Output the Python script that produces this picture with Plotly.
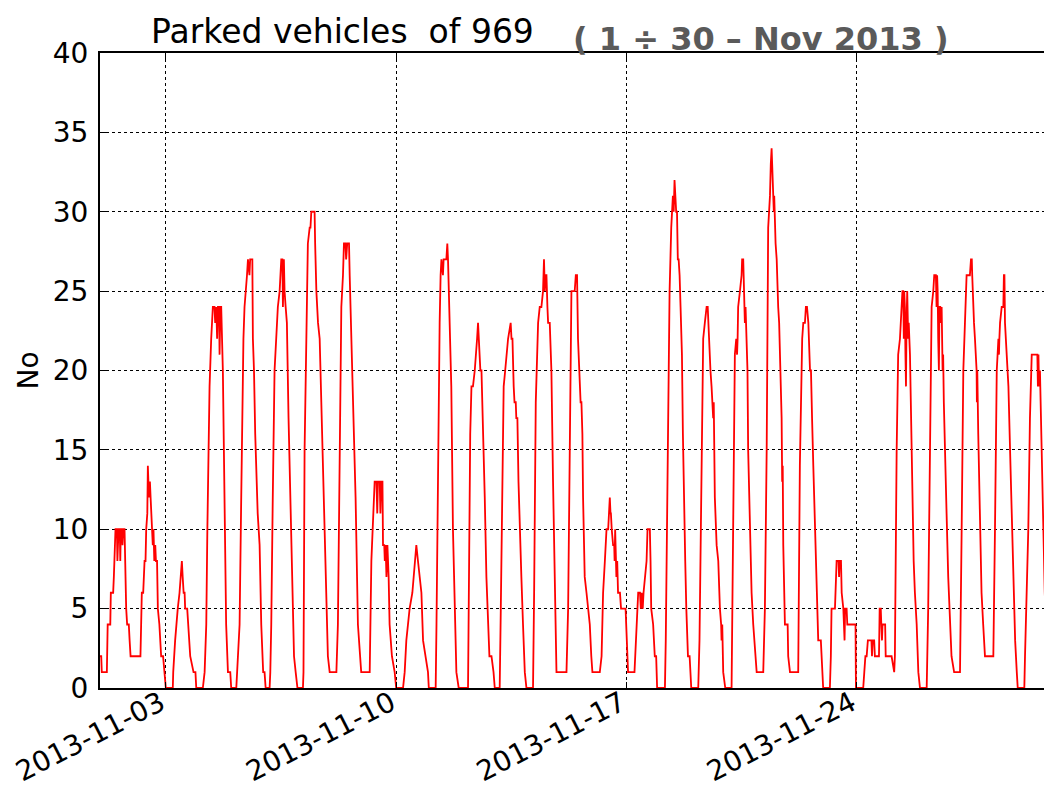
import datetime as dt
import plotly.graph_objects as go

# Each day: list of [hour_of_day, parked_vehicles]
nov01 = [[0, 2], [0.9, 2], [1.3, 1], [5.0, 1], [5.6, 4], [7.5, 4], [7.9, 6], [9.6, 6], [10.1, 7], [10.6, 8], [11.0, 9], [11.3, 10], [12.3, 10], [12.7, 8], [13.1, 9], [13.6, 10], [14.4, 10], [14.8, 8], [15.2, 10], [16.0, 10], [16.4, 9], [17.0, 10], [17.9, 10], [18.6, 6], [19.1, 5], [19.8, 4], [21.0, 4], [21.6, 3], [22.3, 2]]
nov02 = [[0, 2], [5.5, 2], [6.0, 4], [6.5, 6], [7.5, 6], [8.5, 8], [9.2, 8], [9.7, 10], [10.5, 11], [10.9, 14], [11.3, 13], [11.9, 12], [12.4, 13], [12.9, 12], [13.4, 11], [14.0, 10], [14.5, 9], [15.0, 10], [15.6, 8], [16.3, 9], [16.8, 8], [17.6, 8], [18.2, 5], [19.3, 4], [20.6, 2], [22.0, 2], [22.8, 1], [23.9, 0]]
nov03 = [[0, 0], [5.1, 0], [5.4, 1], [6.8, 3], [7.6, 4], [8.7, 5], [10.0, 6], [11.0, 7], [11.7, 8], [12.3, 7], [13.0, 6], [13.7, 6], [14.1, 5], [15.6, 5], [16.5, 4], [17.8, 2], [20.2, 1], [21.6, 1], [22.2, 0]]
nov04 = [[0, 0], [3.0, 0], [4.3, 1], [5.5, 4], [6.3, 10], [7.9, 19], [9.1, 22], [10.3, 24], [11.5, 24], [12.0, 23], [12.8, 24], [13.4, 22], [14.0, 24], [14.8, 24], [15.2, 21], [15.8, 24], [16.4, 24], [17.0, 22], [17.6, 20], [18.8, 12], [20.0, 4], [21.3, 1], [23.0, 1], [23.7, 0]]
nov05 = [[0, 0], [3.4, 0], [4.0, 1], [5.8, 4], [7.0, 12], [7.8, 19], [8.6, 22], [9.4, 24], [10.5, 25], [11.2, 26], [11.9, 27], [13.0, 26], [13.5, 27], [15.1, 27], [15.5, 22], [16.3, 20], [17.2, 16], [18.0, 14], [19.0, 11], [20.4, 9], [21.6, 4], [23.0, 1]]
nov06 = [[0, 1], [0.8, 0], [3.7, 0], [4.2, 1], [4.9, 4], [6.0, 12], [7.3, 20], [8.5, 22], [9.7, 24], [11.0, 25], [12.2, 27], [13.0, 27], [13.4, 24], [14.1, 27], [14.6, 25], [15.4, 24], [16.3, 23], [17.5, 17], [18.5, 13], [19.5, 8], [20.7, 4], [21.5, 2], [22.7, 1], [23.6, 0]]
nov07 = [[0, 0], [4.0, 0], [4.4, 1], [5.2, 15], [6.5, 22], [7.6, 28], [8.9, 29], [9.5, 29], [10.1, 30], [12.5, 30], [12.9, 28], [13.8, 25], [15.0, 23], [16.2, 22], [17.4, 18], [18.6, 14], [19.8, 10], [21.1, 7], [22.2, 2], [23.5, 1]]
nov08 = [[0, 1], [4.4, 1], [5.5, 4], [6.5, 14], [7.4, 22], [8.0, 24], [9.2, 26], [9.9, 28], [11.0, 28], [11.5, 27], [12.3, 28], [13.6, 28], [14.1, 26], [15.3, 22], [16.5, 17], [17.6, 14], [18.4, 12], [20.1, 4], [21.4, 2], [22.5, 1]]
nov09 = [[0, 1], [4.7, 1], [5.9, 8], [7.1, 11], [8.3, 13], [9.6, 13], [10.2, 11], [10.7, 13], [12.0, 13], [12.5, 11], [13.2, 13], [14.0, 13], [14.4, 9], [15.3, 9], [15.7, 8], [16.3, 9], [16.9, 7], [17.6, 9], [18.5, 7], [19.2, 4], [20.9, 2], [22.9, 1], [23.6, 0]]
nov10 = [[0, 0], [5.0, 0], [6.2, 1], [7.4, 3], [8.6, 4], [9.8, 5], [11.8, 6], [12.6, 7], [13.5, 8], [14.7, 9], [15.9, 8], [17.1, 7], [18.4, 6], [19.6, 3], [21.3, 2], [23.2, 1], [23.8, 0]]
nov11 = [[0, 0], [4.8, 0], [5.4, 4], [6.5, 15], [7.7, 23], [8.4, 26], [9.0, 27], [10.1, 26], [10.6, 27], [12.6, 27], [13.3, 28], [13.8, 27], [14.4, 25], [15.0, 24], [16.2, 19], [17.4, 10], [18.7, 5], [19.9, 1], [21.6, 0]]
nov12 = [[0, 0], [4.4, 0], [5.2, 8], [6.0, 16], [6.9, 19], [8.0, 19], [9.3, 20], [10.3, 21], [11.0, 22], [11.7, 23], [12.2, 22], [12.9, 21], [13.4, 20], [14.2, 20], [15.3, 17], [16.6, 12], [17.8, 7], [19.0, 4], [20.0, 2], [21.5, 2], [23.0, 1], [23.9, 0]]
nov13 = [[0, 0], [3.5, 0], [4.3, 5], [5.5, 15], [6.4, 19], [7.5, 20], [8.4, 21], [9.6, 22], [11.5, 23], [12.1, 22], [12.8, 22], [13.2, 19], [13.7, 19], [14.3, 18], [15.2, 18], [15.6, 17], [16.4, 17], [17.2, 13], [18.1, 10], [19.3, 7], [20.5, 4], [21.8, 1], [23.0, 0]]
nov14 = [[0, 0], [3.8, 0], [4.6, 6], [5.8, 18], [7.5, 23], [8.7, 24], [9.9, 24], [11.1, 25], [11.8, 27], [12.4, 25], [13.0, 26], [13.6, 26], [14.3, 24], [14.8, 23], [16.0, 23], [16.6, 21], [17.2, 20], [18.4, 13], [19.7, 7], [20.9, 1]]
nov15 = [[0, 1], [4.2, 1], [5.4, 5], [6.5, 16], [7.8, 25], [9.0, 25], [10.2, 25], [11.0, 26], [11.9, 26], [12.6, 22], [13.9, 19], [14.5, 18], [15.1, 18], [15.8, 16], [16.3, 12], [17.5, 7], [18.8, 6], [20.0, 5], [21.2, 4], [22.3, 2], [23.1, 1]]
nov16 = [[0, 1], [4.5, 1], [5.8, 2], [6.4, 4], [6.9, 6], [8.2, 8], [9.4, 10], [10.6, 10], [11.2, 11], [11.8, 12], [12.3, 11], [12.6, 11], [13.2, 10], [14.2, 9], [15.0, 9], [15.3, 8], [15.7, 10], [16.1, 8], [16.6, 7], [17.2, 8], [17.8, 6], [19.2, 6], [20.0, 5], [23.3, 5]]
nov17 = [[0.3, 2], [1.1, 1], [5.8, 1], [7.1, 3], [7.9, 5], [8.5, 6], [9.8, 6], [10.4, 5], [11.0, 6], [11.8, 5], [12.4, 6], [13.4, 7], [14.6, 8], [15.3, 10], [17.0, 10], [17.5, 8], [18.0, 5], [19.4, 4], [20.6, 2], [21.6, 2], [22.3, 0]]
nov18 = [[0, 0], [4.0, 0], [4.6, 3], [6.1, 15], [7.4, 25], [8.6, 29], [9.8, 31], [10.4, 30], [11.0, 32], [11.6, 31], [12.2, 30], [12.8, 30], [13.4, 27], [14.0, 27], [14.7, 26], [15.4, 24], [16.4, 21], [17.1, 16], [17.8, 12], [18.8, 8], [19.6, 5], [20.8, 2], [22.0, 2], [23.2, 0]]
nov19 = [[0, 0], [4.3, 0], [5.2, 3], [6.2, 10], [7.2, 18], [7.9, 22], [9.1, 23], [10.4, 24], [11.2, 24], [11.6, 23], [12.3, 21], [13.2, 20], [14.0, 19], [14.6, 18], [15.2, 17], [15.6, 18], [16.0, 15], [16.4, 12], [17.7, 9], [18.9, 8], [20.1, 5], [21.0, 4], [21.3, 3], [21.8, 4], [22.5, 1], [23.7, 0]]
nov20 = [[0, 0], [4.6, 0], [5.8, 11], [7.0, 21], [8.0, 22], [8.6, 21], [9.0, 22], [9.4, 24], [10.7, 25], [11.9, 26], [12.3, 27], [13.1, 27], [13.4, 26], [13.8, 24], [14.3, 23], [14.8, 24], [15.2, 23], [15.6, 22], [16.2, 20], [16.7, 15], [17.0, 14], [18.0, 9], [19.2, 6], [20.4, 4], [21.1, 3], [22.0, 2], [22.9, 1]]
nov21 = [[0, 1], [3.7, 1], [4.9, 5], [6.2, 15], [7.3, 29], [8.0, 30], [8.6, 31], [9.2, 33], [9.8, 34], [10.2, 33], [10.5, 32], [11.0, 31], [11.4, 30], [11.7, 31], [12.2, 29], [12.7, 28], [13.5, 27], [14.1, 25], [14.6, 24], [15.3, 23], [15.9, 21], [16.5, 19], [17.1, 17], [17.5, 13], [17.9, 14], [18.3, 9], [19.5, 4], [21.5, 4], [21.9, 2], [23.2, 1]]
nov22 = [[0, 1], [5.2, 1], [6.4, 14], [7.6, 21], [8.1, 22], [8.9, 23], [10.1, 23], [10.8, 24], [11.6, 24], [12.6, 23], [13.2, 21], [13.8, 20], [14.5, 20], [14.8, 18], [15.0, 20], [15.3, 17], [16.2, 14], [17.4, 10], [17.9, 9], [18.6, 7], [19.8, 3], [21.7, 3], [22.6, 1], [23.4, 0]]
nov23 = [[0, 0], [4.3, 0], [5.0, 2], [5.5, 5], [8.0, 5], [8.6, 7], [9.2, 8], [10.6, 8], [11.0, 7], [11.4, 8], [12.4, 8], [12.9, 6], [14.1, 5], [15.0, 3], [15.4, 5], [16.5, 5], [17.0, 4], [23.0, 4], [23.3, 0]]
nov24 = [[0, 0], [4.6, 0], [5.4, 1], [6.2, 2], [7.1, 2], [8.0, 3], [10.6, 3], [11.0, 2], [11.5, 3], [12.6, 3], [13.1, 2], [16.1, 2], [16.6, 5], [17.4, 5], [17.8, 4], [18.3, 3], [18.7, 4], [20.6, 4], [21.0, 2]]
nov25 = [[0, 2], [1.3, 2], [3.2, 1], [3.7, 2], [5.0, 15], [6.1, 21], [7.4, 22], [8.0, 23], [8.6, 24], [9.2, 25], [9.8, 25], [10.2, 22], [10.5, 25], [11.0, 24], [11.4, 21], [11.8, 19], [12.2, 23], [12.7, 25], [13.4, 22], [13.8, 23], [14.7, 21], [15.4, 17], [16.4, 12], [17.4, 8], [18.3, 6], [19.6, 4], [20.8, 1], [22.0, 0]]
nov26 = [[0, 0], [2.9, 0], [4.0, 5], [5.3, 15], [6.5, 24], [7.7, 25], [8.4, 26], [9.6, 26], [10.1, 24], [10.5, 26], [10.9, 25], [11.3, 22], [11.8, 20], [12.2, 24], [12.8, 24], [13.4, 23], [13.8, 24], [14.5, 20], [14.9, 21], [15.4, 18], [16.1, 15], [16.7, 12], [17.4, 11], [18.6, 7], [19.8, 4], [21.0, 2], [22.9, 1]]
nov27 = [[0, 1], [3.2, 1], [4.4, 10], [5.6, 20], [6.8, 23], [8.0, 26], [9.2, 26], [10.4, 26], [11.2, 27], [11.8, 27], [12.1, 26], [12.8, 24], [13.4, 23], [14.1, 22], [14.8, 21], [15.3, 20], [15.5, 18], [15.8, 20], [16.5, 16], [17.7, 11], [18.9, 6], [20.1, 4], [21.4, 2]]
nov28 = [[0, 2], [3.5, 2], [4.7, 10], [6.0, 20], [7.2, 22], [7.6, 21], [7.9, 22], [8.4, 23], [9.6, 24], [10.8, 24], [11.2, 26], [11.6, 26], [12.0, 23], [12.5, 22], [13.3, 21], [14.0, 19], [14.5, 19], [15.7, 15], [16.9, 11], [18.1, 7], [19.4, 3], [20.6, 1], [21.3, 0]]
nov29 = [[0, 0], [2.1, 0], [2.6, 2], [3.8, 6], [5.0, 10], [6.2, 17], [7.5, 21], [11.6, 21], [12.0, 19], [12.4, 21], [12.8, 19], [13.5, 20], [14.7, 15], [15.9, 9], [17.0, 6], [18.0, 4]]

month_days = [nov01, nov02, nov03, nov04, nov05, nov06, nov07, nov08, nov09, nov10,
              nov11, nov12, nov13, nov14, nov15, nov16, nov17, nov18, nov19, nov20,
              nov21, nov22, nov23, nov24, nov25, nov26, nov27, nov28, nov29]

tick_dates = ["2013-11-03", "2013-11-10", "2013-11-17", "2013-11-24"]
y_ticks = [0, 5, 10, 15, 20, 25, 30, 35, 40]

xs, ys = [], []
for i, day in enumerate(month_days):
    base = dt.datetime(2013, 11, 1 + i)
    for h, v in day:
        xs.append(base + dt.timedelta(hours=h))
        ys.append(v)

FONT = "DejaVu Sans"
TICK_SIZE = 28

fig = go.Figure()
fig.add_trace(go.Scatter(x=xs, y=ys, mode="lines",
                         line=dict(color="#ff0000", width=1.8),
                         showlegend=False, hoverinfo="skip"))

fig.update_layout(
    width=1044, height=787,
    margin=dict(l=100, r=0, t=53, b=99, autoexpand=False),
    paper_bgcolor="white", plot_bgcolor="white",
    font=dict(family=FONT, color="black", size=TICK_SIZE),
    showlegend=False,
)

fig.update_xaxes(
    type="date", automargin=False,
    range=[dt.datetime(2013, 11, 1), dt.datetime(2013, 11, 29, 16, 27)],
    tickmode="array",
    tickvals=[dt.datetime.strptime(d, "%Y-%m-%d") for d in tick_dates],
    ticktext=tick_dates,
    tickangle=-27,
    ticklabelstandoff=-14,
    ticklabelshift=-5,
    tickfont=dict(family=FONT, size=TICK_SIZE, color="black"),
    ticks="inside", ticklen=6, tickwidth=1.2, tickcolor="black",
    showline=True, linecolor="black", linewidth=2, mirror="ticks",
    showgrid=True, gridcolor="black", gridwidth=1, griddash="3px,3px",
    zeroline=False,
)
fig.update_yaxes(
    automargin=False,
    range=[0, 40],
    tickmode="array", tickvals=y_ticks, ticktext=[str(v) for v in y_ticks],
    tickfont=dict(family=FONT, size=TICK_SIZE, color="black"),
    ticklabelstandoff=4,
    ticks="inside", ticklen=6, tickwidth=1.2, tickcolor="black",
    showline=True, linecolor="black", linewidth=2, mirror=False,
    showgrid=True, gridcolor="black", gridwidth=1, griddash="3px,3px",
    zeroline=False,
)

fig.add_annotation(text="Parked vehicles\u00a0 of 969", xref="paper", yref="paper",
                   x=(342 - 100) / 944, y=1, xanchor="center", yanchor="bottom", yshift=0,
                   showarrow=False, font=dict(family=FONT, size=33, color="black"))
fig.add_annotation(text="<b>( 1 ÷ 30 – Nov 2013 )</b>", xref="paper", yref="paper",
                   x=(761 - 100) / 944, y=1, xanchor="center", yanchor="bottom", yshift=-7,
                   showarrow=False, font=dict(family=FONT, size=32, color="#5a5a5a"))
fig.add_annotation(text="No", xref="paper", yref="paper",
                   x=(28 - 100) / 944, y=0.5, xanchor="center", yanchor="middle",
                   textangle=-90, showarrow=False,
                   font=dict(family=FONT, size=TICK_SIZE, color="black"))

fig.write_html(
    "out.html",
    config={"displayModeBar": False},
    post_script="document.body.style.margin='0';document.body.style.overflow='hidden';",
)
